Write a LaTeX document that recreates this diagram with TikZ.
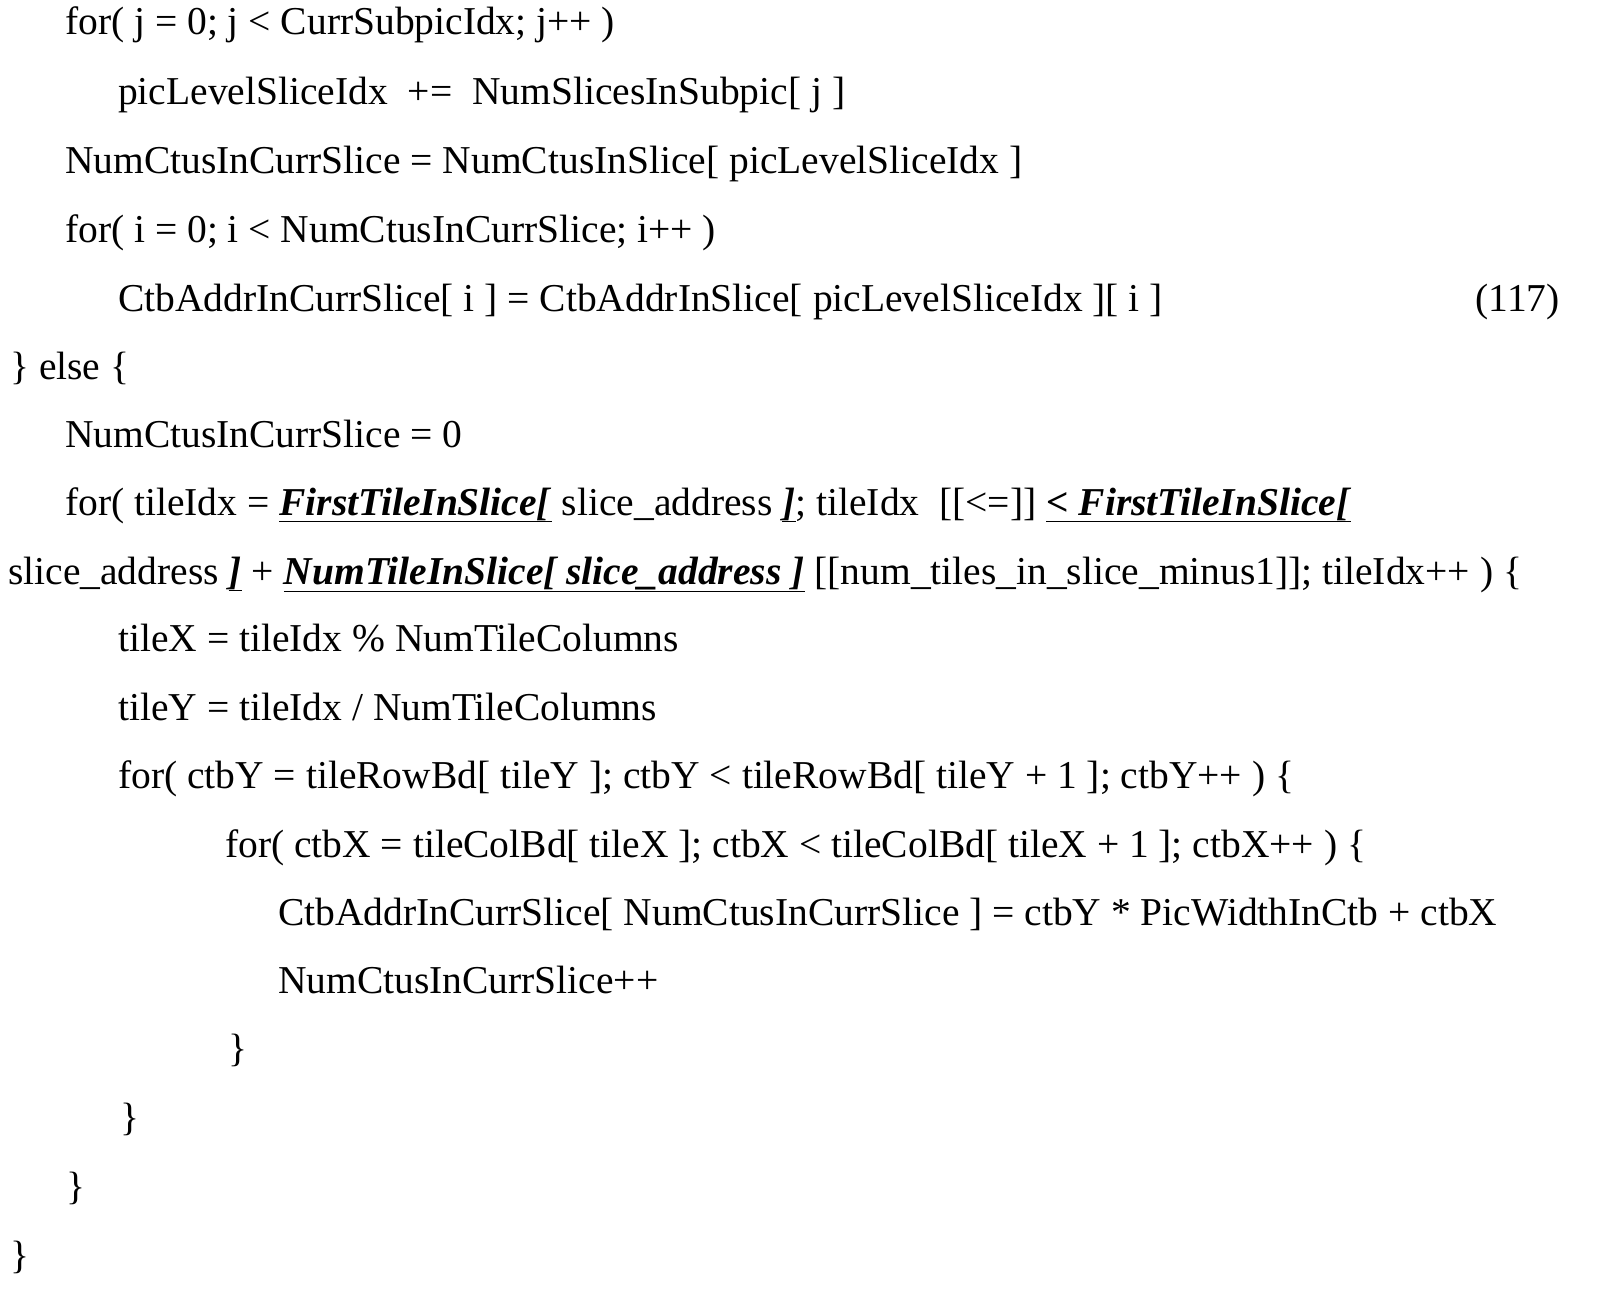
\documentclass[tikz,border=0pt]{standalone}
\usepackage{fontspec}
\setmainfont{Liberation Serif}
\newcommand{\bu}[1]{\underline{\textbf{\textit{#1}}}}
\begin{document}
\begin{tikzpicture}[x=1pt,y=1pt,every node/.style={anchor=base west,inner sep=0pt,font=\fontsize{39.5}{44}\selectfont}]
\useasboundingbox (0,0) rectangle (1605,-1311);
\node (l1) at (65,-35) {for( j = 0; j < CurrSubpicIdx; j++ )};
\node (l2) at (118,-105) {picLevelSliceIdx \ += \ NumSlicesInSubpic[ j ]};
\node (l3) at (65,-173) {NumCtusInCurrSlice = NumCtusInSlice[ picLevelSliceIdx ]};
\node (l4) at (65,-242) {for( i = 0; i < NumCtusInCurrSlice; i++ )};
\node (l5) at (118,-311) {CtbAddrInCurrSlice[ i ] = CtbAddrInSlice[ picLevelSliceIdx ][ i ]};
\node[anchor=base east] (eq) at (1560,-311) {(117)};
\node (l6) at (10,-379) {\} else \{};
\node (l7) at (65,-447) {NumCtusInCurrSlice = 0};
\node (l8) at (65,-515) {for( tileIdx = \bu{FirstTileInSlice[} slice\_address \bu{]}; tileIdx \ [[<=]] \bu{< FirstTileInSlice[}};
\node (l9) at (8,-584) {slice\_address \bu{]} + \bu{NumTileInSlice[ slice\_address ]} [[num\_tiles\_in\_slice\_minus1]]; tileIdx++ ) \{};
\node (l10) at (118,-651) {tileX = tileIdx \% NumTileColumns};
\node (l11) at (118,-720) {tileY = tileIdx / NumTileColumns};
\node (l12) at (118,-788) {for( ctbY = tileRowBd[ tileY ]; ctbY < tileRowBd[ tileY + 1 ]; ctbY++ ) \{};
\node (l13) at (225,-857) {for( ctbX = tileColBd[ tileX ]; ctbX < tileColBd[ tileX + 1 ]; ctbX++ ) \{};
\node (l14) at (278,-925) {CtbAddrInCurrSlice[ NumCtusInCurrSlice ] = ctbY * PicWidthInCtb + ctbX};
\node (l15) at (278,-993) {NumCtusInCurrSlice++};
\node (l16) at (228,-1061) {\}};
\node (l17) at (120,-1130) {\}};
\node (l18) at (66,-1199) {\}};
\node (l19) at (10,-1268) {\}};
\end{tikzpicture}
\end{document}
